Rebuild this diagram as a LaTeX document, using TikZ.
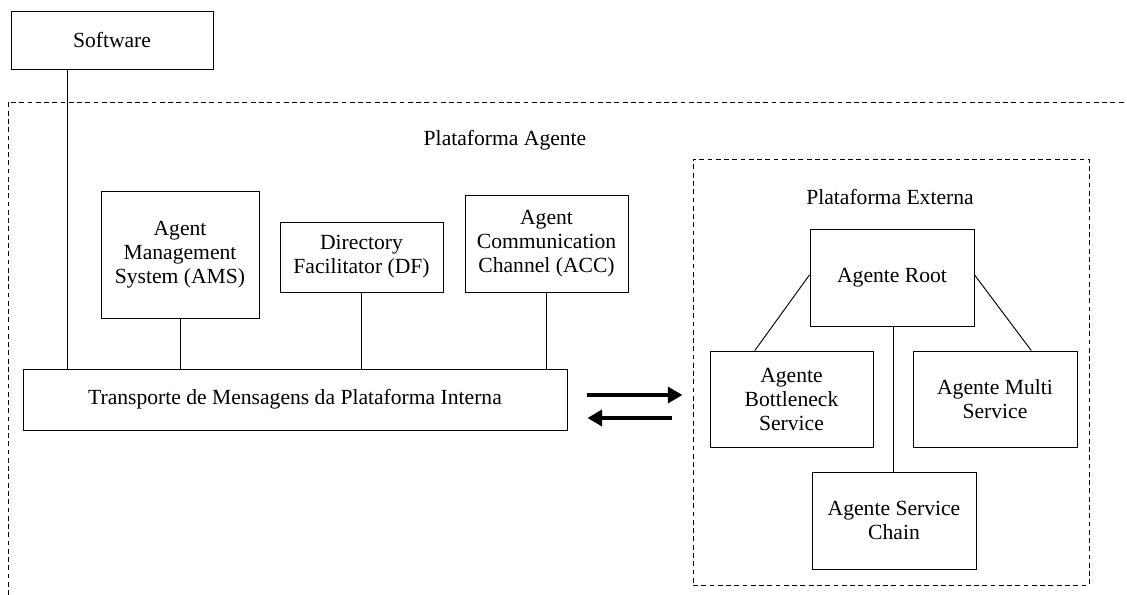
\documentclass[tikz,border=0pt]{standalone}
\usepackage{fontspec}
\setmainfont{Liberation Serif}
\usetikzlibrary{calc,arrows.meta}
\begin{document}
\begin{tikzpicture}[x=0.75pt,y=-0.75pt,
  every node/.style={font=\fontsize{16.2}{18}\selectfont},
  box/.style={draw,line width=0.7pt,rectangle,align=center,inner sep=0pt},
  link/.style={line width=0.7pt},
  frame/.style={draw,line width=0.7pt,dash pattern=on 3.6pt off 2.6pt},
  bigarrow/.style={line width=3.6pt,-{Triangle[length=11pt,width=12pt]}}]
\useasboundingbox (0,0) rectangle (1127,595);
% outer frame (open on right and bottom)
\coordinate (ob) at (8,595);
\coordinate (otl) at (8,102);
\coordinate (otr) at (1127,102);
\draw[frame] (ob) -- (otl) -- (otr);
\node at (505,140) (plabel) {Plataforma Agente};
% nodes
\node[box,minimum width=202*0.75pt,minimum height=58*0.75pt] (sw) at (112,40) {Software};
\node[box,minimum width=158*0.75pt,minimum height=127*0.75pt] (ams) at (180,254.5) {Agent\\Management\\System (AMS)};
\node[box,minimum width=163*0.75pt,minimum height=70*0.75pt] (df) at (361.5,257) {Directory\\Facilitator (DF)};
\node[box,minimum width=163*0.75pt,minimum height=97*0.75pt] (acc) at (546.5,243.5) {Agent\\Communication\\Channel (ACC)};
\node[box,minimum width=544*0.75pt,minimum height=61*0.75pt] (tr) at (295,399.5) {Transporte de Mensagens da Plataforma Interna};
% external platform
\node[frame,rectangle,minimum width=396*0.75pt,minimum height=426*0.75pt] (ext) at (891,372) {};
\node at (890,197) (elabel) {Plataforma Externa};
\node[box,minimum width=164*0.75pt,minimum height=97*0.75pt] (root) at (892,277.5) {Agente Root};
\node[box,minimum width=163*0.75pt,minimum height=96*0.75pt] (bn) at (791.5,399) {Agente\\Bottleneck\\Service};
\node[box,minimum width=164*0.75pt,minimum height=96*0.75pt] (multi) at (995,399) {Agente Multi\\Service};
\node[box,minimum width=164*0.75pt,minimum height=97*0.75pt] (chain) at (894,520.5) {Agente Service\\Chain};
% connectors
\coordinate (swx) at (67,69);
\draw[link] (swx) -- (swx |- tr.north);
\draw[link] (ams.south) -- (ams.south |- tr.north);
\draw[link] (df.south) -- (df.south |- tr.north);
\draw[link] (acc.south) -- (acc.south |- tr.north);
\draw[link] ([xshift=0.75pt]root.south) -- ([xshift=0.75pt]root.south |- chain.north);
\draw[link] ([yshift=2pt]root.west) -- ($(bn.north west)!0.276!(bn.north east)$);
\draw[link] ([yshift=2pt]root.east) -- ($(multi.north west)!0.72!(multi.north east)$);
% arrows
\draw[bigarrow] ($(tr.east)+(20,-4.5)$) -- ($(tr.east)+(115,-4.5)$);
\draw[bigarrow] ($(tr.east)+(105,18.5)$) -- ($(tr.east)+(20,18.5)$);
\end{tikzpicture}
\end{document}
